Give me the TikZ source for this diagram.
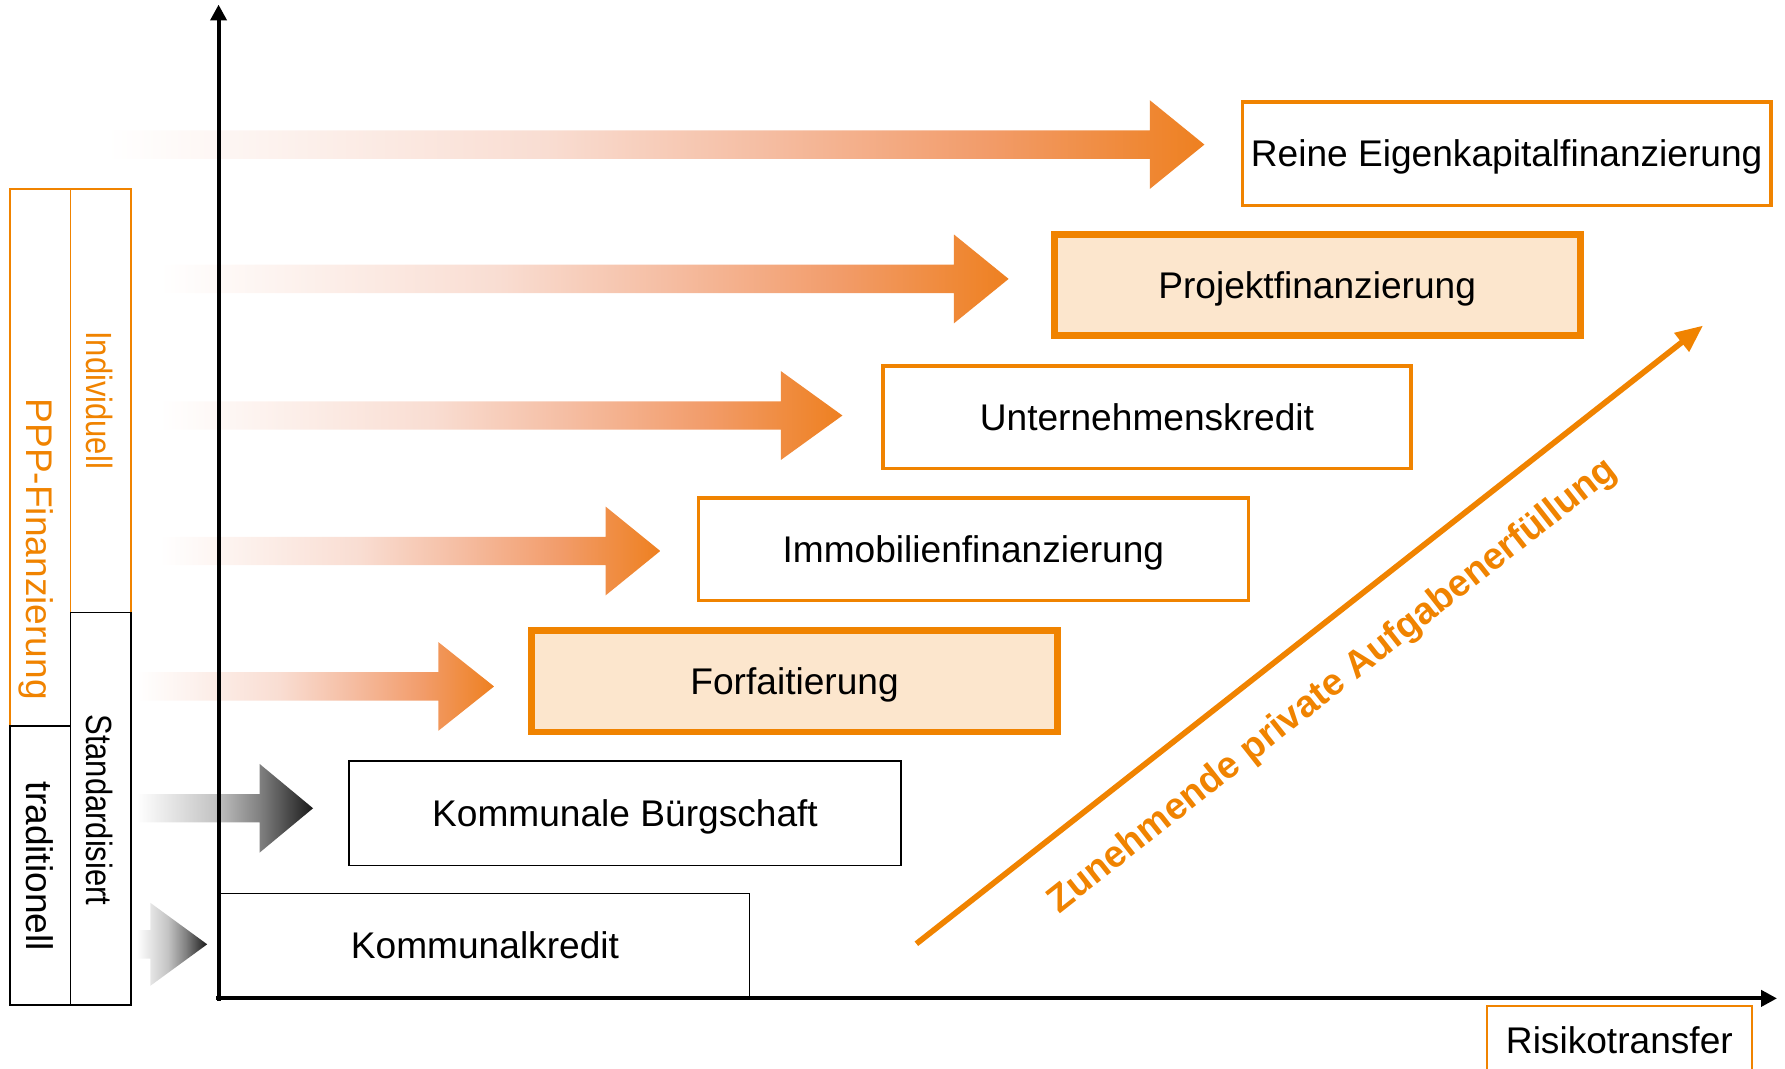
\documentclass[tikz,border=0pt]{standalone}
\usepackage{fontspec}
\setmainfont{Liberation Sans}
\usetikzlibrary{arrows.meta}
\definecolor{ora}{HTML}{F08300}
\definecolor{peach}{HTML}{FCE6CD}
\definecolor{orA}{HTML}{F9DDD2}
\definecolor{orB}{HTML}{F5BDA2}
\definecolor{orC}{HTML}{F29C6A}
\definecolor{orD}{HTML}{EE8020}
\definecolor{grA}{HTML}{C4C4C4}
\definecolor{grB}{HTML}{808080}
\definecolor{grC}{HTML}{1A1A1A}
\pgfdeclarehorizontalshading{orshade}{100bp}{color(0bp)=(white); color(25bp)=(white); color(45bp)=(orA); color(55bp)=(orB); color(65bp)=(orC); color(75bp)=(orD); color(100bp)=(orD)}
\pgfdeclarehorizontalshading{grshade}{100bp}{color(0bp)=(white); color(25bp)=(white); color(47bp)=(grA); color(60bp)=(grB); color(75bp)=(grC); color(100bp)=(grC)}
\newcommand{\mainfs}{\fontsize{32.6}{39}\selectfont}
\newcommand{\fatarr}[6]{% start x, head x, tip x, centre y, head half height, shading
  \shade[shading=#6] (#1,#4-12.5) -- (#2,#4-12.5) -- (#2,#4-#5) -- (#3,#4) -- (#2,#4+#5) -- (#2,#4+12.5) -- (#1,#4+12.5) -- cycle;}
\begin{document}
\begin{tikzpicture}[x=1pt,y=-1pt,
  box/.style={draw, rectangle, inner sep=0pt, font=\mainfs, text height=23.3pt, text depth=0pt},
  sz/.style 2 args={minimum width=#1pt, minimum height=#2pt},
  thinor/.style={box, draw=ora, line width=3pt, fill=white},
  thickor/.style={box, draw=ora, line width=6pt, fill=peach},
  blk/.style={box, draw=black, line width=1.5pt, fill=white},
  colbox/.style={draw, rectangle, inner sep=0pt, line width=1.5pt},
  vlbl/.style={rotate=-90, inner sep=0pt, text height=23.3pt, text depth=0pt},
  axis/.style={line width=3.5pt, -{Triangle[length=14pt,width=14pt]}},
]
\useasboundingbox (0,0) rectangle (1568,939);

% gradient block arrows
\fatarr{94}{1010}{1058}{127}{39}{orshade}
\fatarr{140}{838}{886}{245}{39}{orshade}
\fatarr{140}{686}{740}{365}{39}{orshade}
\fatarr{140}{532}{580}{484}{39}{orshade}
\fatarr{120}{385}{434}{603}{39}{orshade}
\fatarr{120}{228}{275}{710}{39}{grshade}
\fatarr{120}{132}{182}{829.5}{36.5}{grshade}

% left column
\node[colbox, draw=ora, sz={53}{472}] (pppbox) at (35.5,402) {};
\node[colbox, draw=ora, sz={53}{372}] (indbox) at (88.5,352) {};
\node[colbox, draw=black, sz={53}{245}] (tradbox) at (35.5,760.5) {};
\node[colbox, draw=black, sz={53}{345}] (stdbox) at (88.5,710.5) {};
\node[vlbl, text=ora, font=\mainfs] (ppp) at (35,482.5) {PPP-Finanzierung};
\node[vlbl, text=black, font=\mainfs] (trad) at (35,761) {traditionell};
\node[vlbl, text=ora, font=\fontsize{32}{38}\selectfont] (ind) at (88,351.5) {\scalebox{0.85}[1]{Individuell}};
\node[vlbl, text=black, font=\fontsize{32}{38}\selectfont] (std) at (88,711.5) {\scalebox{0.85}[1]{Standardisiert}};

% boxes
\node[thinor, sz={464}{91}] (reine) at (1323.5,135) {Reine Eigenkapitalfinanzierung};
\node[thickor, sz={462}{89}] (projekt) at (1157,250.5) {Projektfinanzierung};
\node[thinor, sz={464}{90}] (unter) at (1007.5,366.5) {Unternehmenskredit};
\node[thinor, sz={483}{90}] (immo) at (855,482.5) {Immobilienfinanzierung};
\node[thickor, sz={462}{89}] (forf) at (698,598.5) {Forfaitierung};
\node[blk, sz={484.5}{91.5}] (buerg) at (549,714.5) {Kommunale Bürgschaft};
\node[blk, sz={464.5}{91.5}] (kredit) at (426,830.5) {Kommunalkredit};
\node[box, draw=ora, line width=2pt, fill=white, sz={233}{61}] (risk) at (1422.5,914) {Risikotransfer};

% axes
\coordinate (O) at (192,877);
\coordinate (ytop) at (192,4);
\coordinate (xend) at (1561,877);
\draw[axis] (192,879) -- (ytop);
\draw[axis] (190,877) -- (xend);

% diagonal arrow with label
\coordinate (dstart) at (805,829);
\coordinate (dend) at (1496,286);
\draw[ora, line width=5pt, -{Triangle[length=24pt,width=20pt]}] (dstart) -- (dend);
\node[rotate=38.2, text=ora, font=\bfseries\fontsize{33}{40}\selectfont, inner sep=0pt] (dlabel) at (1171,603) {Zunehmende private Aufgabenerfüllung};
\end{tikzpicture}
\end{document}
